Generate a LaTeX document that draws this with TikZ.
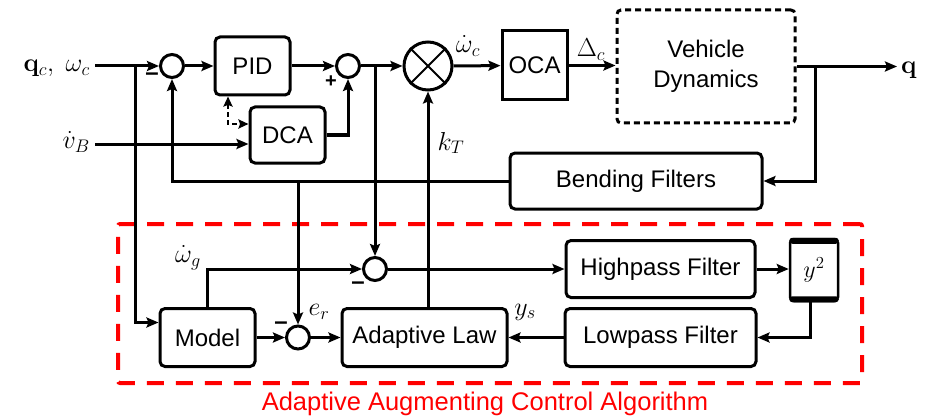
\RequirePackage{fix-cm}
\documentclass[tikz,border=0pt]{standalone}
\usepackage[no-math]{fontspec}
\setmainfont{Liberation Sans}
\usetikzlibrary{arrows.meta,calc}
\begin{document}
\begin{tikzpicture}[x=1pt,y=-1pt,
  ln/.style={line width=3pt},
  arr/.style={ln,-{Stealth[length=12pt,width=10pt,inset=2pt]}},
  dasharr/.style={line width=2.5pt,dash pattern=on 5pt off 3pt,{Stealth[length=10pt,width=9pt,inset=1.5pt]}-{Stealth[length=10pt,width=9pt,inset=1.5pt]}},
  blk/.style={draw,line width=3pt,rounded corners=5pt,inner sep=0pt,font=\fontsize{24}{30}\selectfont},
  sumc/.style={draw,circle,line width=3pt,minimum size=23pt,inner sep=0pt},
  mlab/.style={inner sep=0pt,font=\fontsize{26}{30}\selectfont},
  sgn/.style={inner sep=0pt,font=\bfseries\fontsize{24}{24}\selectfont},
  plus/.style={inner sep=0pt,font=\bfseries\fontsize{20}{20}\selectfont}
]
\useasboundingbox (0,0) rectangle (939,417);

% blocks
\node[blk,minimum width=75pt,minimum height=58pt] (PID) at (252.5,66) {PID};
\node[blk,minimum width=75pt,minimum height=56pt] (DCA) at (287.5,135) {DCA};
\node[blk,rounded corners=0pt,minimum width=65pt,minimum height=69pt] (OCA) at (534.5,65.5) {OCA};
\node[blk,dash pattern=on 6pt off 4pt,rounded corners=4pt,minimum width=178pt,minimum height=113pt,align=center] (VD) at (706,66.5) {Vehicle\\Dynamics};
\node[blk,minimum width=252pt,minimum height=56pt] (BF) at (636,181) {Bending Filters};
\node[blk,minimum width=95pt,minimum height=58pt] (Model) at (207.5,337.5) {Model};
\node[blk,minimum width=165pt,minimum height=58pt] (AL) at (424.5,337.5) {Adaptive Law};
\node[blk,minimum width=191pt,minimum height=58pt] (LP) at (660.5,337.5) {Lowpass Filter};
\node[blk,minimum width=189pt,minimum height=57pt] (HP) at (660.5,269) {Highpass Filter};
\node[blk,line width=2.5pt,rounded corners=4pt,minimum width=48pt,minimum height=62pt] (Y2) at (814,270) {$y^2$};
\fill[rounded corners=3pt] ([xshift=0.5pt]Y2.north west) rectangle ([xshift=-0.5pt,yshift=-6pt]Y2.north east);
\fill[rounded corners=3pt] ([xshift=0.5pt]Y2.south west) rectangle ([xshift=-0.5pt,yshift=6pt]Y2.south east);

% junctions
\node[sumc] (s1) at (172,66) {};
\node[sumc] (s2) at (348,66) {};
\node[sumc] (s3) at (375,269) {};
\node[sumc] (sE) at (298,337.5) {};
\node[draw,circle,line width=3pt,minimum size=48pt,inner sep=0pt] (M) at (428,66) {};
\draw[line width=2pt] (M.north east) -- (M.south west) (M.north west) -- (M.south east);

% red frame
\node[draw=red,line width=4pt,dash pattern=on 17pt off 12pt,rounded corners=2pt,minimum width=744pt,minimum height=159pt,inner sep=0pt] (AAC) at (490,303.5) {};
\node[anchor=base,text=red,inner sep=0pt,font=\fontsize{25.5}{30}\selectfont] (AACl) at (485,410) {Adaptive Augmenting Control Algorithm};

% inputs
\node[mlab,anchor=base east] (qlab) at (90,72) {$\mathbf{q}_c,\ \omega_c$};
\coordinate (qin) at (95,66);
\coordinate (b1) at (135,66);
\coordinate (mIn) at ([yshift=15pt]Model.west);
\draw[arr] (qin) -- (s1);
\draw[arr] (b1) |- (mIn);
\node[sgn] (m1) at (152,77) {–};
\draw[arr] (s1) -- (PID);
\draw[arr] (PID) -- (s2);
\node[plus] (p2) at (331,82) {+};
\draw[arr] (DCA.east) -| (s2.south);
\coordinate (dP) at ([xshift=-24.5pt]PID.south);
\coordinate (dD) at ([yshift=11pt]DCA.west);
\draw[dasharr] (dP) |- (dD);
\node[mlab,anchor=base east] (vlab) at (90,149) {$\dot v_B$};
\coordinate (vin) at (95,144);
\coordinate (vD) at ([yshift=-9pt]DCA.west);
\draw[arr] (vin) -- (vD);

% feedback
\draw[arr] (BF.west) -| (s1.south);
\coordinate (bE) at (sE |- BF.west);
\draw[arr] (bE) -- (sE);
\coordinate (b3) at (s3 |- s2);
\draw[arr] (b3) -- (s3);
\draw[arr] (s2) -- (M);
\coordinate (kT) at (M |- AL.north);
\draw[arr] (kT) -- (M);
\node[mlab] (kTl) at (451,143) {$k_T$};
\draw[arr] (M) -- (OCA);
\node[mlab] (wcl) at (468,46) {$\dot\omega_c$};
\draw[arr] (OCA.east) -- (OCA.east -| VD.west);
\node[mlab] (Dcl) at (591,50) {$\Delta_c$};
\coordinate (qout) at (897,66.5);
\draw[arr] (VD.east) -- (qout);
\node[mlab,anchor=base west] (qo) at (901,74) {$\mathbf{q}$};
\coordinate (b4) at (815,66.5);
\draw[arr] (b4) |- (BF.east);

% lower loop
\draw[arr] (Model.north) |- (s3.west);
\node[sgn] (m3) at (358,286) {–};
\node[mlab] (wgl) at (188,258) {$\dot\omega_g$};
\draw[arr] (Model) -- (sE);
\node[sgn] (mE) at (281,326) {–};
\node[mlab] (erl) at (319,312) {$e_r$};
\draw[arr] (sE) -- (AL);
\draw[arr] (LP) -- (AL);
\node[mlab] (ysl) at (525,312) {$y_s$};
\draw[arr] (s3) -- (HP);
\draw[arr] (HP.east) -- (HP.east -| Y2.west);
\coordinate (y2o) at ([xshift=-4pt]Y2.south);
\draw[arr] (y2o) |- (LP.east);
\end{tikzpicture}
\end{document}
